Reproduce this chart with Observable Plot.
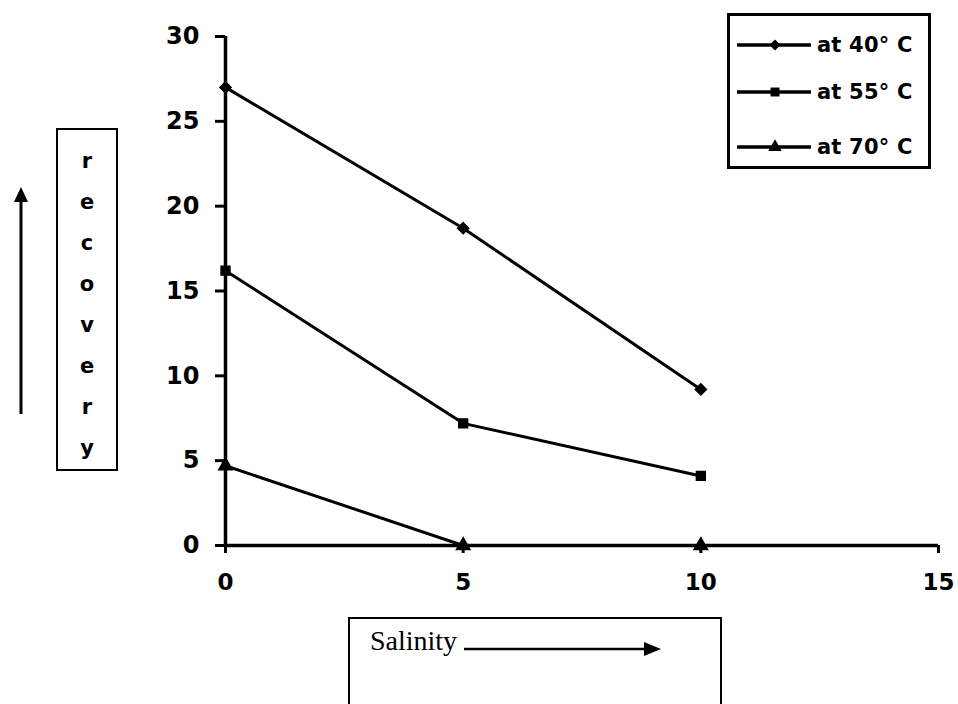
<!DOCTYPE html>
<html>
<head>
<meta charset="utf-8">
<script src="https://cdn.jsdelivr.net/npm/d3@7"></script>
<script src="https://cdn.jsdelivr.net/npm/@observablehq/plot@0.6"></script>
<style>
  html, body { margin: 0; padding: 0; background: #fff; }
  #wrap { position: relative; width: 958px; height: 704px; overflow: hidden; }
  #wrap svg.plot { position: absolute; left: 0; top: 0; }
  .box { position: absolute; border: 2px solid #000; box-sizing: border-box; background: #fff; }
  #legend { left: 727px; top: 13px; width: 204px; height: 156px; border-width: 3px; }
  .lrow { position: absolute; left: 6px; height: 24px; display: flex; align-items: center; }
  .lrow span { font: bold 21px "DejaVu Sans", sans-serif; margin-left: 5px; letter-spacing: 0.2px; white-space: nowrap; }
  #ylab { left: 56px; top: 128px; width: 62px; height: 343px; }
  #ylab div { position: absolute; left: 0; width: 100%; text-align: center; font: bold 21px "DejaVu Sans", sans-serif; }
  #xlab { left: 348px; top: 617px; width: 374px; height: 120px; }
  #xlab span { position: absolute; left: 20px; top: 6px; font: 28px "Liberation Serif", "Times New Roman", serif; }
</style>
</head>
<body>
<div id="wrap"></div>
<script>
const salinity = [0, 5, 10];
const series = ["at 40° C", "at 55° C", "at 70° C"];
const rec40 = [27, 18.7, 9.2];
const rec55 = [16.2, 7.2, 4.1];
const rec70 = [4.7, 0, 0];
const xTicks = [0, 5, 10, 15];
const yTicks = [0, 5, 10, 15, 20, 25, 30];
const symbols = ["diamond2", "square", "triangle"];
const yLetters = ["r", "e", "c", "o", "v", "e", "r", "y"];

const values = [rec40, rec55, rec70];
const data = [];
series.forEach((s, i) => salinity.forEach((x, j) => data.push({series: s, x, y: values[i][j]})));

const tickFont = "DejaVu Sans, sans-serif";
const chart = Plot.plot({
  width: 958,
  height: 704,
  marginLeft: 225,
  marginRight: 20,
  marginTop: 36,
  marginBottom: 159,
  style: {background: "transparent", overflow: "visible"},
  x: {domain: [0, 15], ticks: xTicks},
  y: {domain: [0, 30], ticks: yTicks},
  symbol: {domain: series, range: symbols},
  marks: [
    Plot.axisY({ticks: yTicks, tickSize: 10, tickPadding: 16, strokeWidth: 3, fontSize: 24, fontWeight: "bold", fontFamily: tickFont, label: null}),
    Plot.axisX({ticks: xTicks, tickSize: 8, tickPadding: 20, strokeWidth: 3, fontSize: 23, fontWeight: "bold", fontFamily: tickFont, label: null}),
    Plot.ruleX([0], {stroke: "#000", strokeWidth: 3.5}),
    Plot.ruleY([0], {stroke: "#000", strokeWidth: 3.5}),
    Plot.line(data, {x: "x", y: "y", z: "series", stroke: "#000", strokeWidth: 3}),
    Plot.dot(data, {x: "x", y: "y", symbol: "series", fill: "#000", stroke: "#000", r: 5})
  ]
});
chart.classList.add("plot");
const wrap = document.getElementById("wrap");
wrap.appendChild(chart);

// Legend
const legend = document.createElement("div");
legend.id = "legend"; legend.className = "box";
const rowTops = [17, 64, 119];
series.forEach((s, i) => {
  const row = document.createElement("div");
  row.className = "lrow";
  row.style.top = rowTops[i] + "px";
  const sym = d3.symbol(d3[{diamond2: "symbolDiamond2", square: "symbolSquare", triangle: "symbolTriangle"}[symbols[i]]], 80)();
  row.innerHTML = `<svg width="76" height="24"><line x1="1" y1="12" x2="75" y2="12" stroke="#000" stroke-width="3.5"/><path d="${sym}" transform="translate(39,12)" fill="#000"/></svg><span>${s}</span>`;
  legend.appendChild(row);
});
wrap.appendChild(legend);

// Y label box
const ylab = document.createElement("div");
ylab.id = "ylab"; ylab.className = "box";
yLetters.forEach((c, i) => {
  const d = document.createElement("div");
  d.textContent = c;
  d.style.top = (19 + i * 41) + "px";
  ylab.appendChild(d);
});
wrap.appendChild(ylab);

// Up arrow
const upArrow = document.createElementNS("http://www.w3.org/2000/svg", "svg");
upArrow.setAttribute("width", "40"); upArrow.setAttribute("height", "240");
upArrow.style.position = "absolute"; upArrow.style.left = "1px"; upArrow.style.top = "185px";
upArrow.innerHTML = `<line x1="20" y1="12" x2="20" y2="229" stroke="#000" stroke-width="3"/><path d="M20,2 L27,17 L13,17 Z" fill="#000"/>`;
wrap.appendChild(upArrow);

// X label box
const xlab = document.createElement("div");
xlab.id = "xlab"; xlab.className = "box";
xlab.innerHTML = `<span>Salinity</span><svg width="200" height="20" style="position:absolute;left:112px;top:20px"><line x1="2" y1="10" x2="186" y2="10" stroke="#000" stroke-width="2.5"/><path d="M199,10 L182,3 L182,17 Z" fill="#000"/></svg>`;
wrap.appendChild(xlab);
</script>
</body>
</html>
